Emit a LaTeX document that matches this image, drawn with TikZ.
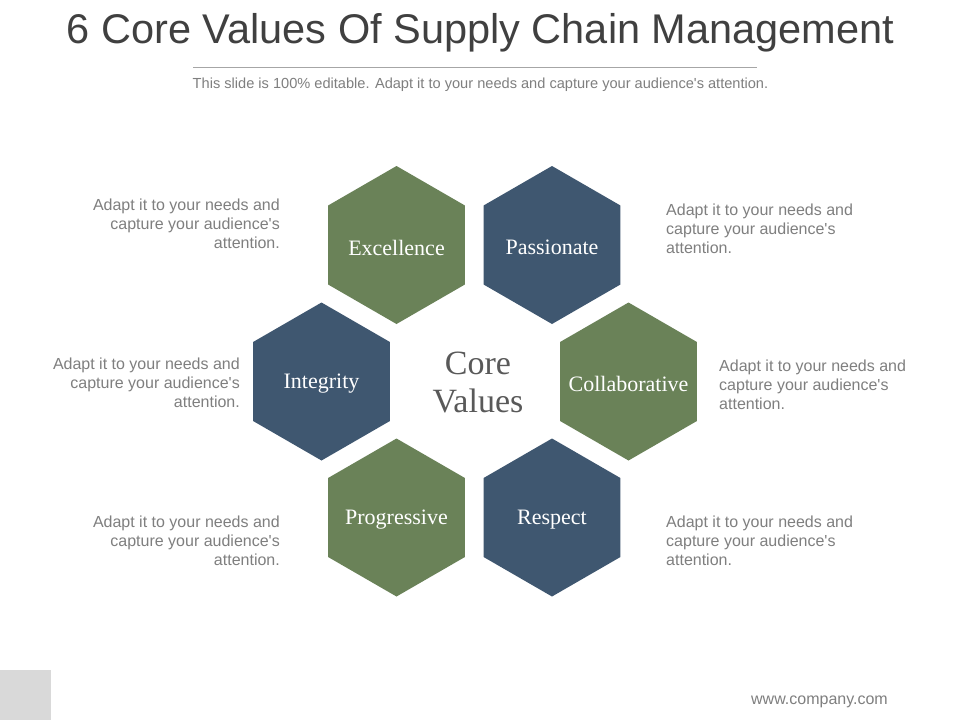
\documentclass[tikz,border=0pt]{standalone}
\usepackage{fontspec}
\setmainfont{Liberation Sans}[Ligatures=TeXOff]
\newfontfamily\hexserif{Liberation Serif}
\usetikzlibrary{shapes.geometric}
\definecolor{hexgreen}{HTML}{6A8258}
\definecolor{hexblue}{HTML}{3F5770}
\definecolor{titlegray}{HTML}{404040}
\definecolor{textgray}{HTML}{7F7F7F}
\definecolor{coregray}{HTML}{595959}
\definecolor{boxgray}{HTML}{D9D9D9}
\definecolor{rulegray}{HTML}{A6A6A6}
\tikzset{
  hexbox/.style={regular polygon, regular polygon sides=6, shape border rotate=30,
    minimum size=158pt, inner sep=0pt, outer sep=0pt, draw=none},
  gbox/.style={hexbox, fill=hexgreen},
  bbox/.style={hexbox, fill=hexblue},
  hexlabel/.style={inner sep=0pt, text=white, yshift=-2.5pt,
    font=\hexserif\fontsize{22}{26}\selectfont},
  desc/.style={inner sep=0pt, text=textgray, font=\fontsize{16}{19}\selectfont},
  descl/.style={desc, align=right, anchor=east},
  descr/.style={desc, align=left, anchor=west},
}
\begin{document}
\begin{tikzpicture}[x=1pt,y=-1pt]
\useasboundingbox (0,0) rectangle (960,720);
\fill[white] (0,0) rectangle (960,720);
% title
\node[inner sep=0pt, text=titlegray, font=\fontsize{41.5}{48}\selectfont] (title) at (480.5,33) {6 Core Values Of Supply Chain Management};
\coordinate (ruleL) at (193,67);
\coordinate (ruleR) at (757,67);
\draw[rulegray, line width=1pt] (ruleL) -- (ruleR);
\node[inner sep=0pt, text=textgray, font=\fontsize{14.6}{17}\selectfont] (subtitle) at (480.5,85) {This slide is 100\% editable. Adapt it to your needs and capture your audience's attention.};
% hexagons
\node[gbox] (exc) at (396.5,245) {};
\node[bbox] (pas) at (552,245) {};
\node[bbox] (int) at (321.5,381.5) {};
\node[gbox] (col) at (628.5,381.5) {};
\node[gbox] (pro) at (396.5,517.5) {};
\node[bbox] (res) at (552,517.5) {};
\node[hexlabel] (excT) at (exc) {Excellence};
\node[hexlabel] (pasT) at (pas) {Passionate};
\node[hexlabel] (intT) at (int) {Integrity};
\node[hexlabel] (colT) at (col) {Collaborative};
\node[hexlabel] (proT) at (pro) {Progressive};
\node[hexlabel] (resT) at (res) {Respect};
\node[inner sep=0pt, text=coregray, align=center, font=\hexserif\fontsize{34}{38}\selectfont] (core) at (478,382) {Core\\Values};
% descriptions
\node[descl] (d1) at (280,224) {Adapt it to your needs and\\capture your audience's\\attention.};
\node[descr] (d2) at (666,229) {Adapt it to your needs and\\capture your audience's\\attention.};
\node[descl] (d3) at (240,383) {Adapt it to your needs and\\capture your audience's\\attention.};
\node[descr] (d4) at (719,385) {Adapt it to your needs and\\capture your audience's\\attention.};
\node[descl] (d5) at (280,541) {Adapt it to your needs and\\capture your audience's\\attention.};
\node[descr] (d6) at (666,541) {Adapt it to your needs and\\capture your audience's\\attention.};
% footer
\fill[boxgray] (0,670) rectangle (51,720);
\node[inner sep=0pt, anchor=east, text=textgray, font=\fontsize{16}{18}\selectfont] (web) at (888,702) {www.company.com};
\end{tikzpicture}
\end{document}
